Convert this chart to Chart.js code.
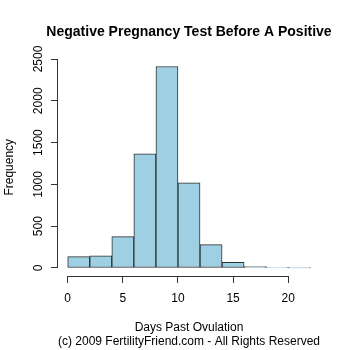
<!DOCTYPE html>
<html>
<head>
<meta charset="utf-8">
<script src="https://cdn.jsdelivr.net/npm/chart.js@4"></script>
<style>
  html, body { margin: 0; padding: 0; background: #fff; }
  #wrap { width: 350px; height: 350px; }
</style>
</head>
<body>
<div id="wrap"><canvas id="histChart"></canvas></div>
<script>
// Histogram bins (2 days wide), centres and counts
const binCenters = [1, 3, 5, 7, 9, 11, 13, 15, 17, 19, 21];
const frequencies = [135, 145, 375, 1365, 2410, 1020, 280, 68, 16, 4, 2];
const xTicks = [0, 5, 10, 15, 20];
const yTicks = [0, 500, 1000, 1500, 2000, 2500];
const chartTitle = 'Negative Pregnancy Test Before A Positive';

const axisColor = '#333333';
const fontFamily = '"Liberation Sans", Arial, Helvetica, sans-serif';

// R-style axes: line only spans from first to last tick, title centred over plot
const rAxes = {
    id: 'rAxes',
    afterDraw(chart) {
        const { ctx, chartArea, scales: { x, y } } = chart;
        ctx.save();
        ctx.strokeStyle = axisColor;
        ctx.lineWidth = 1;
        ctx.beginPath();
        const by = Math.round(chartArea.bottom) + 0.5;
        ctx.moveTo(x.getPixelForValue(xTicks[0]), by);
        ctx.lineTo(x.getPixelForValue(xTicks[xTicks.length - 1]), by);
        const lx = Math.round(chartArea.left) - 0.5;
        ctx.moveTo(lx, y.getPixelForValue(yTicks[0]));
        ctx.lineTo(lx, y.getPixelForValue(yTicks[yTicks.length - 1]));
        ctx.stroke();

        // main title
        ctx.fillStyle = '#000';
        ctx.font = 'bold 14px ' + fontFamily;
        ctx.textAlign = 'center';
        ctx.textBaseline = 'middle';
        ctx.fillText(chartTitle, (chartArea.left + chartArea.right) / 2, 32);
        ctx.restore();
    }
};

new Chart(document.getElementById('histChart'), {
    type: 'bar',
    data: {
        datasets: [{
            label: 'Frequency',
            data: binCenters.map((c, i) => ({ x: c, y: frequencies[i] })),
            backgroundColor: '#9ecfe2',
            borderColor: '#2f2f2f',
            borderWidth: 1,
            borderSkipped: false,
            barPercentage: 1,
            categoryPercentage: 1
        }]
    },
    options: {
        responsive: true,
        maintainAspectRatio: false,
        animation: false,
        layout: { padding: { top: 58.5, right: 30, bottom: 0, left: 0 } },
        plugins: {
            legend: { display: false },
            tooltip: { enabled: false },
            title: { display: false }
        },
        scales: {
            x: {
                type: 'linear',
                offset: false,
                min: -0.88,
                max: 22.88,
                afterBuildTicks: (scale) => { scale.ticks = xTicks.map(v => ({ value: v })); },
                afterFit: (scale) => { scale.height = 74; },
                border: { display: false },
                grid: { display: true, offset: false, drawOnChartArea: false, drawTicks: true, tickLength: 7, color: axisColor },
                ticks: {
                    color: '#000',
                    padding: 8,
                    maxRotation: 0,
                    autoSkip: false,
                    callback: (v) => String(v),
                    font: { family: fontFamily, size: 12 }
                },
                title: {
                    display: true,
                    text: ['Days Past Ovulation', '(c) 2009 FertilityFriend.com - All Rights Reserved'],
                    color: '#000',
                    font: { family: fontFamily, size: 12 },
                    padding: { top: 0, bottom: 1 }
                }
            },
            y: {
                min: -96,
                max: 2506,
                afterBuildTicks: (scale) => { scale.ticks = yTicks.map(v => ({ value: v })); },
                afterFit: (scale) => { scale.width = 58; },
                border: { display: false },
                grid: { display: true, drawOnChartArea: false, drawTicks: true, tickLength: 7, color: axisColor },
                ticks: {
                    color: '#000',
                    padding: -1,
                    minRotation: 90,
                    maxRotation: 90,
                    crossAlign: 'center',
                    autoSkip: false,
                    callback: (v) => String(v),
                    font: { family: fontFamily, size: 12 }
                },
                title: {
                    display: true,
                    text: 'Frequency',
                    color: '#000',
                    font: { family: fontFamily, size: 12 },
                    padding: { top: 2, bottom: 0 }
                }
            }
        }
    },
    plugins: [rAxes]
});
</script>
</body>
</html>
